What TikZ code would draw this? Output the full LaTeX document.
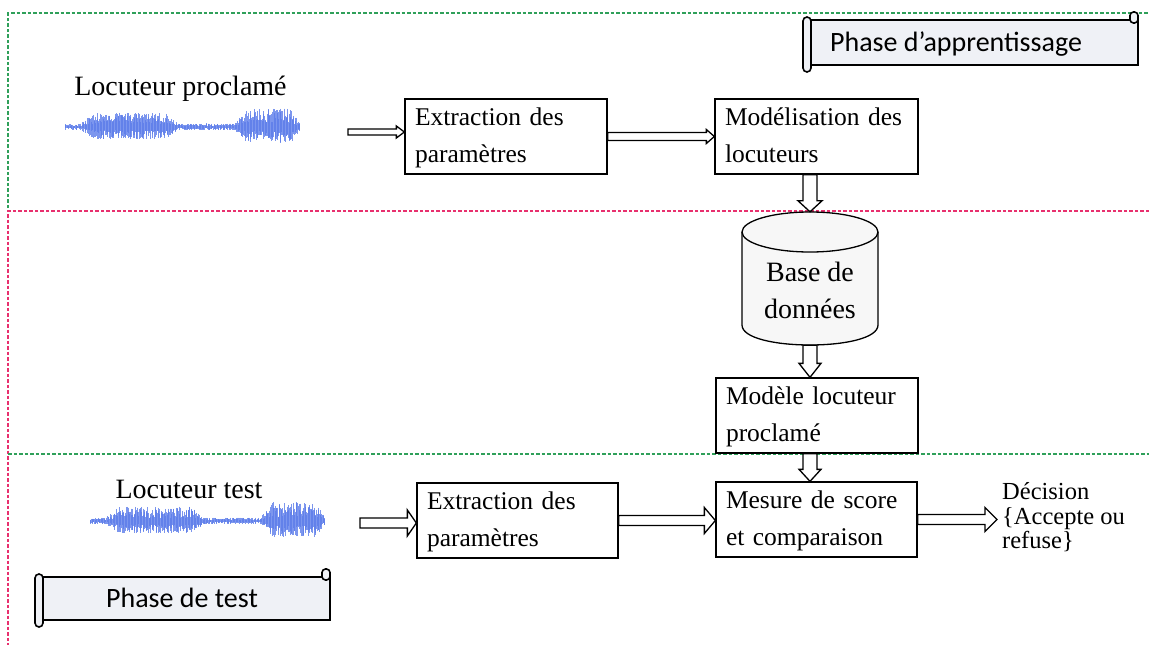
\documentclass[tikz,border=0pt]{standalone}
\usepackage{fontspec}
\setmainfont{Liberation Serif}
\newfontfamily\scrollfont{Carlito}
\usetikzlibrary{calc}

\definecolor{wavecol}{HTML}{5C7CEA}
\definecolor{dashgreen}{HTML}{2FA05A}
\definecolor{dashpink}{HTML}{E8306E}
\definecolor{scrollfill}{HTML}{EFF1F6}
\definecolor{dbfill}{HTML}{F7F7F7}

% horizontal block arrow: y taken from #1, tip at the x of #2
\newcommand\hArrow[5]{%
  \draw[blockarrow] let \p1=(#1), \p2=(#2) in
    (\x1,\y1+#3pt) -- (\x2-#5pt,\y1+#3pt) -- (\x2-#5pt,\y1+#4pt) -- (\x2,\y1)
    -- (\x2-#5pt,\y1-#4pt) -- (\x2-#5pt,\y1-#3pt) -- (\x1,\y1-#3pt) -- cycle;}
% vertical block arrow pointing down: x taken from #1, from #2 to #3
\newcommand\vArrow[6]{%
  \draw[blockarrow] let \p0=(#1), \p1=(#2), \p2=(#3) in
    (\x0-#4pt,\y1) -- (\x0-#4pt,\y2+#6pt) -- (\x0-#5pt,\y2+#6pt) -- (\x0,\y2)
    -- (\x0+#5pt,\y2+#6pt) -- (\x0+#4pt,\y2+#6pt) -- (\x0+#4pt,\y1) -- cycle;}
% rolled scroll banner: left, top, right, bottom
\newcommand\scrollbanner[4]{%
  \draw[scrollline] (#1,#2) rectangle (#3,#4);
  \draw[scrollline, rounded corners=4pt] (#1-4,#2-3) rectangle (#1+4,#4+7);
  \draw[scrollline, rounded corners=3.5pt] (#3-8,#2+3) rectangle (#3,#2-8);}
% speech waveform: left x, centre y
\newcommand\speechwave[2]{%
  \foreach \i in {0,0.6,...,235} {
    \pgfmathsetmacro\env{(\i<15)*3
      +(\i>=15)*(\i<30)*(3+(\i-15)*0.7)
      +(\i>=30)*(\i<100)*13
      +(\i>=100)*(\i<112)*(13-(\i-100)*0.7)
      +(\i>=112)*(\i<170)*3.2
      +(\i>=170)*(\i<182)*(3.2+(\i-170)*1.1)
      +(\i>=182)*(\i<225)*17
      +(\i>=225)*(\i<=235)*(17-(\i-225)*1.3)}
    \pgfmathsetmacro\up{\env*(0.25+0.85*rnd)}
    \pgfmathsetmacro\dn{\env*(0.25+0.7*rnd)}
    \draw[wave] (#1+\i,#2-\up) -- (#1+\i,#2+\dn);
  }}

\begin{document}
\begin{tikzpicture}[x=1pt,y=-1pt,
  box/.style={draw, line width=1.3pt, fill=white, minimum height=75pt,
    inner xsep=10pt, inner ysep=0pt, align=left,
    font=\fontsize{25.5}{37}\selectfont,
    execute at begin node=\strut, execute at end node=\strut},
  blockarrow/.style={draw, line width=1.3pt, fill=white, line join=miter},
  scrollline/.style={draw, line width=1.6pt, fill=scrollfill},
  dbline/.style={line width=1.3pt},
  wave/.style={draw=wavecol, line width=0.6pt, opacity=0.8},
  greendash/.style={dashgreen, line width=1.1pt, dash pattern=on 3.5pt off 2pt},
  pinkdash/.style={dashpink, line width=1.1pt, dash pattern=on 3.5pt off 2pt},
  label/.style={font=\fontsize{28}{34}\selectfont, anchor=base, inner sep=0pt},
  scrolltext/.style={font=\scrollfont\fontsize{28}{34}\selectfont, anchor=base, inner sep=0pt}]

\useasboundingbox (0,0) rectangle (1149,645);
\fill[white] (0,0) rectangle (1149,645);

% phase separators
\draw[greendash] (8,208) -- (8,13) -- (1149,13);
\draw[pinkdash] (1149,211) -- (8,211) -- (8,645);
\draw[greendash] (8,454) -- (1149,454);

% banners
\scrollbanner{807}{20}{1138}{65}
\node[scrolltext] (phaseA) at (956,51.5) {Phase d’apprentissage};
\scrollbanner{39}{577}{330}{620}
\node[scrolltext] (phaseT) at (182,607.5) {Phase de test};

% speakers and their signals
\node[label] (spk1) at (180.5,95) {Locuteur proclamé};
\pgfmathsetseed{17}
\speechwave{65}{127}
\node[label] (spk2) at (189,498) {Locuteur test};
\pgfmathsetseed{29}
\speechwave{90}{521}

% processing blocks
\node[box, minimum width=202pt, text width=182pt] (ext1) at (506,136.5) {Extraction des\\paramètres};
\node[box, minimum width=203pt, text width=183pt] (mod1) at (816.5,136.5) {Modélisation des\\locuteurs};
\node[box, minimum width=202pt, text width=182pt] (mlp) at (817,415.5) {Modèle locuteur\\proclamé};
\node[box, minimum width=201pt, text width=181pt] (ext2) at (517.5,520.5) {Extraction des\\paramètres};
\node[box, minimum width=201pt, text width=181pt] (mes) at (816.5,519.5) {Mesure de score\\et comparaison};

% database cylinder
\node[minimum width=136pt, minimum height=133pt, inner sep=0pt] (db) at (810,278.5) {};
\fill[dbfill] (742,232) -- (742,325) .. controls (742,351.67) and (878,351.67) .. (878,325) -- (878,232) -- cycle;
\fill[dbfill] (810,232) ellipse [x radius=68pt, y radius=20pt];
\draw[dbline] (742,232) -- (742,325) .. controls (742,351.67) and (878,351.67) .. (878,325) -- (878,232);
\draw[dbline] (810,232) ellipse [x radius=68pt, y radius=20pt];
\node[font=\fontsize{28}{37}\selectfont, align=center, inner sep=0pt,
  execute at begin node=\strut, execute at end node=\strut] (dbtext) at (810,296) {Base de\\données};

% decision
\node[font=\fontsize{24.5}{24.5}\selectfont, align=left, anchor=west, inner sep=0pt,
  execute at begin node=\strut, execute at end node=\strut] (dectxt) at (1002,519.6)
  {Décision\\\{Accepte ou\\refuse\}};

% free arrow ends
\coordinate (in1) at (348,132);
\coordinate (in2) at (360,523);
\coordinate (dec) at (997,0);

% arrows
\hArrow{in1}{ext1.west}{3}{6}{8}
\hArrow{ext1.east}{mod1.west}{4}{7}{8}
\vArrow{db.center}{mod1.south}{db.north}{7}{12}{11}
\vArrow{db.center}{db.south}{mlp.north}{7}{11}{14}
\vArrow{db.center}{mlp.south}{mes.north}{7}{11}{12}
\hArrow{in2}{ext2.west}{5}{13}{9}
\hArrow{ext2.east}{mes.west}{5}{13}{11}
\hArrow{mes.east}{dec}{5}{12}{12}

\end{tikzpicture}
\end{document}
